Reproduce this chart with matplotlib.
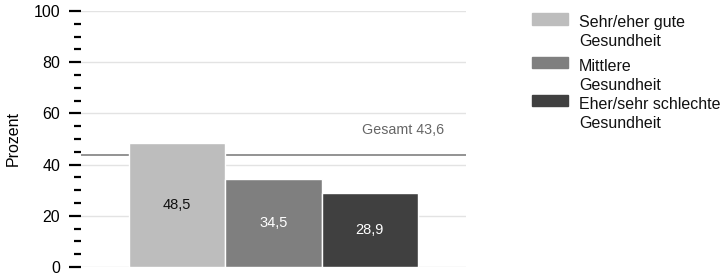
import matplotlib; matplotlib.use("Agg")
import matplotlib.pyplot as plt
from matplotlib.patches import Rectangle
from matplotlib.ticker import MultipleLocator

plt.rcParams['font.family'] = ['Liberation Sans', 'DejaVu Sans']

groups = ["Sehr/eher gute\nGesundheit", "Mittlere\nGesundheit", "Eher/sehr schlechte\nGesundheit"]
values = [48.5, 34.5, 28.9]
total = 43.6
colors = ["#bdbdbd", "#7f7f7f", "#404040"]
text_colors = ["#111111", "white", "white"]

W, H = 727, 275
fig = plt.figure(figsize=(W / 100, H / 100), dpi=100)
ax = fig.add_axes([81 / W, 8 / H, 385 / W, 256 / H])

x = range(len(values))
ax.bar(x, values, width=1.0, color=colors, edgecolor="white", linewidth=1.0, zorder=3)
ax.axhline(total, color="#8a8a8a", lw=1.3, zorder=2)
ax.annotate(f"Gesamt {total:.1f}".replace(".", ","), (2.77, total), xytext=(0, 15.5),
            textcoords="offset points", ha="right", va="baseline", fontsize=10.3, color="#666666")
for i, v in enumerate(values):
    ax.text(i, v / 2, f"{v:.1f}".replace(".", ","), ha="center", va="center",
            fontsize=10.5, color=text_colors[i], zorder=4)

ax.set_xlim(-1, 3)
ax.set_ylim(0, 100)
ax.yaxis.set_major_locator(MultipleLocator(20))
ax.yaxis.set_minor_locator(MultipleLocator(5))
ax.yaxis.grid(True, color="#e3e3e3", lw=1.0, zorder=0)
ax.set_axisbelow(True)
ax.set_xticks([])
for s in ax.spines.values():
    s.set_visible(False)
ax.tick_params(axis="y", which="major", length=8.5, width=1.6, color="black", pad=6.5, labelsize=11.5)
ax.tick_params(axis="y", which="minor", length=5, width=1.6, color="black")
ax.set_ylabel("Prozent", fontsize=11.5)
ax.yaxis.set_label_coords(-0.156, 0.5)

# legend, first line aligned with the swatch
baselines = [27, 71, 109]
for lab, col, b in zip(groups, colors, baselines):
    fig.patches.append(Rectangle((532 / W, 1 - (b - 2.5) / H), 36 / W, 11.5 / H,
                                 color=col, transform=fig.transFigure))
    for j, line in enumerate(lab.split("\n")):
        fig.text(579 / W, 1 - (b + j * 18.5) / H, line, ha="left", va="baseline",
                 fontsize=11.5, color="#111111")

fig.savefig("out.png", dpi=100)
